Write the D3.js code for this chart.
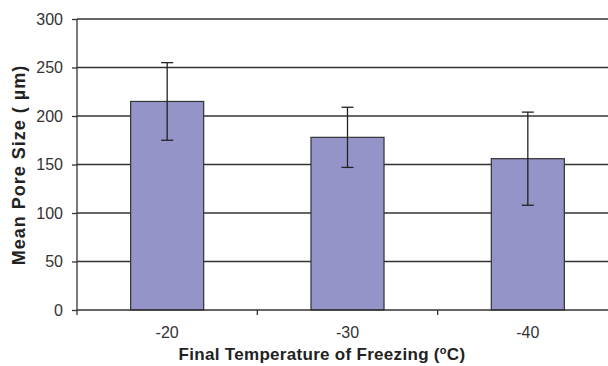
<!DOCTYPE html>
<html>
<head>
<meta charset="utf-8">
<script src="https://cdn.jsdelivr.net/npm/d3@7"></script>
<style>
  body { margin: 0; background: #fff; }
  svg { display: block; font-family: "Liberation Sans", Arial, sans-serif; }
</style>
</head>
<body>
<svg id="chart" width="608" height="366"></svg>
<script>
// chart values
const temps = ["-20", "-30", "-40"];
const poreSize = [215, 178, 156];
const poreErr = [40, 31, 48];
const yTicks = [0, 50, 100, 150, 200, 250, 300];

const svg = d3.select("#chart");
const plotL = 77, plotR = 618, plotT = 19, plotB = 310;

const x = d3.scaleBand().domain(temps).range([plotL, plotR]).paddingInner(0).paddingOuter(0);
const y = d3.scaleLinear().domain([0, 300]).range([plotB, plotT]);
const barW = x.bandwidth() * 0.405;

// gridlines
svg.append("g")
  .selectAll("line")
  .data(yTicks.filter(d => d > 0))
  .join("line")
  .attr("x1", plotL)
  .attr("x2", plotR)
  .attr("y1", d => y(d))
  .attr("y2", d => y(d))
  .attr("stroke", "#333")
  .attr("stroke-width", 1.3);

// bars
svg.append("g")
  .selectAll("rect")
  .data(temps)
  .join("rect")
  .attr("x", (d) => x(d) + x.bandwidth() / 2 - barW / 2)
  .attr("y", (d, i) => y(poreSize[i]))
  .attr("width", barW)
  .attr("height", (d, i) => plotB - y(poreSize[i]))
  .attr("fill", "#9494c8")
  .attr("stroke", "#333")
  .attr("stroke-width", 1.2);

// error bars
const err = svg.append("g").attr("stroke", "#222").attr("stroke-width", 1.3);
temps.forEach((t, i) => {
  const cx = x(t) + x.bandwidth() / 2;
  const hi = y(poreSize[i] + poreErr[i]);
  const lo = y(poreSize[i] - poreErr[i]);
  err.append("line").attr("x1", cx).attr("x2", cx).attr("y1", hi).attr("y2", lo);
  err.append("line").attr("x1", cx - 6).attr("x2", cx + 6).attr("y1", hi).attr("y2", hi);
  err.append("line").attr("x1", cx - 6).attr("x2", cx + 6).attr("y1", lo).attr("y2", lo);
});

// y axis
const yAxis = svg.append("g")
  .attr("transform", `translate(${plotL},0)`)
  .call(d3.axisLeft(y).tickValues(yTicks).tickSize(5).tickPadding(9));
yAxis.select(".domain").attr("stroke", "#333").attr("stroke-width", 1.3).attr("d", `M0,${plotT}V${plotB + 5}`);
yAxis.selectAll(".tick line").attr("stroke", "#333").attr("stroke-width", 1.3);
yAxis.selectAll("text").attr("font-size", 16).attr("fill", "#333")
  .style("font-family", "'Liberation Sans', Arial, sans-serif");

// x axis
const xAxis = svg.append("g")
  .attr("transform", `translate(0,${plotB})`)
  .call(d3.axisBottom(x).tickSize(0).tickPadding(17));
xAxis.select(".domain").attr("stroke", "#333").attr("stroke-width", 1.3).attr("d", `M${plotL},0H${plotR}`);
xAxis.selectAll("text").attr("font-size", 16).attr("fill", "#333")
  .style("font-family", "'Liberation Sans', Arial, sans-serif");
// category boundary ticks
svg.append("g")
  .selectAll("line")
  .data(temps.slice(1))
  .join("line")
  .attr("x1", d => x(d))
  .attr("x2", d => x(d))
  .attr("y1", plotB)
  .attr("y2", plotB + 5)
  .attr("stroke", "#333")
  .attr("stroke-width", 1.3);

// axis titles
svg.append("text")
  .attr("transform", `translate(25,165) rotate(-90)`)
  .attr("text-anchor", "middle")
  .attr("font-size", 18)
  .attr("letter-spacing", 1)
  .attr("font-weight", "bold")
  .attr("fill", "#222")
  .text("Mean Pore Size ( \u00b5m)");

const xt = svg.append("text")
  .attr("x", 322)
  .attr("y", 360)
  .attr("text-anchor", "middle")
  .attr("font-size", 17)
  .attr("letter-spacing", 0.3)
  .attr("font-weight", "bold")
  .attr("fill", "#222");
xt.append("tspan").text("Final Temperature of Freezing (");
xt.append("tspan").attr("dy", -6).attr("font-size", 11).text("o");
xt.append("tspan").attr("dy", 6).text("C)");
</script>
</body>
</html>
